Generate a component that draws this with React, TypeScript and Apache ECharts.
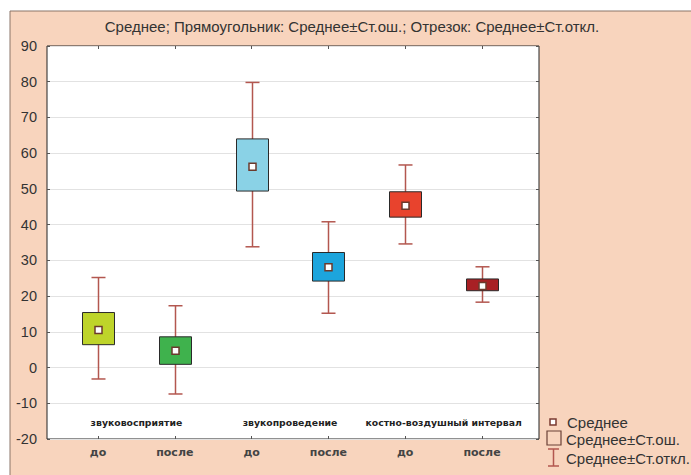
import React, { useEffect, useRef } from "react";
import * as echarts from "echarts";

const subLabels = ["до", "после", "до", "после", "до", "после"];
const groups = ["звуковосприятие", "звукопроведение", "костно-воздушный интервал"];
const means = [10.5, 4.7, 56.2, 28.1, 45.3, 22.8];
const seLow = [6.4, 0.9, 49.4, 24.2, 42.1, 21.5];
const seHigh = [15.4, 8.6, 64.0, 32.2, 49.2, 24.8];
const sdLow = [-3.2, -7.4, 33.8, 15.2, 34.6, 18.3];
const sdHigh = [25.2, 17.3, 79.8, 40.8, 56.7, 28.2];
const boxColors = ["#bed42a", "#3fb24d", "#8ad2e6", "#1ca5dd", "#e8432d", "#a82024"];
const titleText = "Среднее; Прямоугольник: Среднее±Ст.ош.; Отрезок: Среднее±Ст.откл.";
const legendLabels = ["Среднее", "Среднее±Ст.ош.", "Среднее±Ст.откл."];

const WHISKER = "#b3574f";
const FONT = "Liberation Sans, Arial, sans-serif";
const WIDE = "DejaVu Sans, Verdana, sans-serif";

export default function App() {
  const ref = useRef<HTMLDivElement>(null);
  useEffect(() => {
    if (!ref.current) return;
    const chart = echarts.init(ref.current, null, { renderer: "svg" });
    const positions = subLabels.map((_, i) => i + 1);
    const boxData = positions.map((x, i) => [x, means[i], seLow[i], seHigh[i], sdLow[i], sdHigh[i], i]);
    const groupData = groups.map((g, i) => [2 * i + 1.5, -15.5, i]);

    const option: any = {
      animation: false,
      backgroundColor: "#ffffff",
      textStyle: { fontFamily: FONT },
      title: {
        text: titleText,
        left: 347,
        top: 14,
        textAlign: "center",
        textStyle: { fontSize: 15, fontWeight: "normal", color: "#333", fontFamily: FONT },
      },
      grid: {
        left: 47,
        right: 152,
        top: 46,
        bottom: 36,
        show: true,
        backgroundColor: "#ffffff",
        borderColor: "#222",
        borderWidth: 1,
      },
      xAxis: [
        {
          type: "value",
          min: 0.336,
          max: 6.742,
          position: "bottom",
          axisLine: { show: false, onZero: false },
          splitLine: { show: false },
          axisTick: { show: true, inside: true, length: 3, customValues: positions, lineStyle: { color: "#555" } },
          axisLabel: {
            show: true,
            customValues: positions,
            formatter: (v: number) => subLabels[Math.round(v) - 1] ?? "",
            color: "#444",
            fontWeight: "bold",
            fontSize: 11,
            margin: 8,
            fontFamily: WIDE,
          },
        },
        {
          type: "value",
          min: 0.336,
          max: 6.742,
          position: "top",
          axisLine: { show: false, onZero: false },
          splitLine: { show: false },
          axisTick: { show: true, inside: true, length: 3, customValues: positions, lineStyle: { color: "#555" } },
          axisLabel: { show: false },
        },
      ],
      yAxis: [
        {
          type: "value",
          min: -20,
          max: 90,
          interval: 10,
          position: "left",
          axisLine: { show: false, onZero: false },
          axisTick: { show: true, inside: true, length: 3, lineStyle: { color: "#555" } },
          splitLine: { show: true, lineStyle: { color: "#e2e2e2", width: 1 } },
          axisLabel: { color: "#333", fontSize: 14.5, margin: 10, fontFamily: FONT },
        },
        {
          type: "value",
          min: -20,
          max: 90,
          interval: 10,
          position: "right",
          axisLine: { show: false, onZero: false },
          axisTick: { show: true, inside: true, length: 3, lineStyle: { color: "#555" } },
          splitLine: { show: false },
          axisLabel: { show: false },
        },
      ],
      graphic: {
        elements: [
          {
            type: "rect",
            z: -10,
            shape: { x: 10, y: 11, width: 690, height: 470 },
            style: { fill: "#f8d4bd", stroke: "#8a7468", lineWidth: 1 },
          },
          {
            type: "rect",
            z: 10,
            shape: { x: 550, y: 419, width: 6, height: 6 },
            style: { fill: "#fff", stroke: "#7a3a30", lineWidth: 1.5 },
          },
          {
            type: "text",
            z: 10,
            x: 567,
            y: 422,
            style: { text: legendLabels[0], fill: "#333", font: `15px ${FONT}`, textVerticalAlign: "middle" },
          },
          {
            type: "rect",
            z: 10,
            shape: { x: 547, y: 431, width: 14, height: 14 },
            style: { fill: "none", stroke: "#6a4036", lineWidth: 1.2 },
          },
          {
            type: "text",
            z: 10,
            x: 566,
            y: 439,
            style: { text: legendLabels[1], fill: "#333", font: `15px ${FONT}`, textVerticalAlign: "middle" },
          },
          {
            type: "line",
            z: 10,
            shape: { x1: 553.5, y1: 449, x2: 553.5, y2: 466 },
            style: { stroke: WHISKER, lineWidth: 1.5 },
          },
          {
            type: "line",
            z: 10,
            shape: { x1: 548, y1: 449, x2: 559, y2: 449 },
            style: { stroke: WHISKER, lineWidth: 1.5 },
          },
          {
            type: "line",
            z: 10,
            shape: { x1: 548, y1: 466, x2: 559, y2: 466 },
            style: { stroke: WHISKER, lineWidth: 1.5 },
          },
          {
            type: "text",
            z: 10,
            x: 566,
            y: 458,
            style: { text: legendLabels[2], fill: "#333", font: `15px ${FONT}`, textVerticalAlign: "middle" },
          },
        ],
      },
      series: [
        {
          type: "custom",
          xAxisIndex: 0,
          yAxisIndex: 0,
          data: boxData,
          clip: false,
          renderItem: (params: any, api: any) => {
            const x = api.value(0);
            const i = api.value(6);
            const pMean = api.coord([x, api.value(1)]);
            const pSeL = api.coord([x, api.value(2)]);
            const pSeH = api.coord([x, api.value(3)]);
            const pSdL = api.coord([x, api.value(4)]);
            const pSdH = api.coord([x, api.value(5)]);
            const cx = Math.round(pMean[0]) + 0.5;
            const bw = 32;
            const cw = 14;
            return {
              type: "group",
              children: [
                {
                  type: "line",
                  shape: { x1: cx, y1: pSdH[1], x2: cx, y2: pSdL[1] },
                  style: { stroke: WHISKER, lineWidth: 1.5 },
                },
                {
                  type: "line",
                  shape: { x1: cx - cw / 2, y1: pSdH[1], x2: cx + cw / 2, y2: pSdH[1] },
                  style: { stroke: WHISKER, lineWidth: 1.5 },
                },
                {
                  type: "line",
                  shape: { x1: cx - cw / 2, y1: pSdL[1], x2: cx + cw / 2, y2: pSdL[1] },
                  style: { stroke: WHISKER, lineWidth: 1.5 },
                },
                {
                  type: "rect",
                  shape: { x: cx - bw / 2, y: pSeH[1], width: bw, height: pSeL[1] - pSeH[1] },
                  style: { fill: boxColors[i], stroke: "#2a2a2a", lineWidth: 1 },
                },
                {
                  type: "rect",
                  shape: { x: cx - 3.5, y: pMean[1] - 3.5, width: 7, height: 7 },
                  style: { fill: "#ffffff", stroke: "#6b3a2c", lineWidth: 1.5 },
                },
              ],
            };
          },
        },
        {
          type: "custom",
          xAxisIndex: 0,
          yAxisIndex: 0,
          data: groupData,
          clip: false,
          renderItem: (params: any, api: any) => {
            const p = api.coord([api.value(0), api.value(1)]);
            const i = api.value(2);
            return {
              type: "text",
              x: p[0],
              y: p[1],
              style: {
                text: groups[i],
                fill: "#222",
                font: `bold 9.3px ${WIDE}`,
                textAlign: "center",
                textVerticalAlign: "middle",
              },
            };
          },
        },
      ],
    };
    chart.setOption(option);
    return () => chart.dispose();
  }, []);

  return (
    <div style={{ position: "fixed", left: 0, top: 0, width: 691, height: 475, background: "#fff" }}>
      <div ref={ref} style={{ width: 691, height: 475 }} />
    </div>
  );
}
